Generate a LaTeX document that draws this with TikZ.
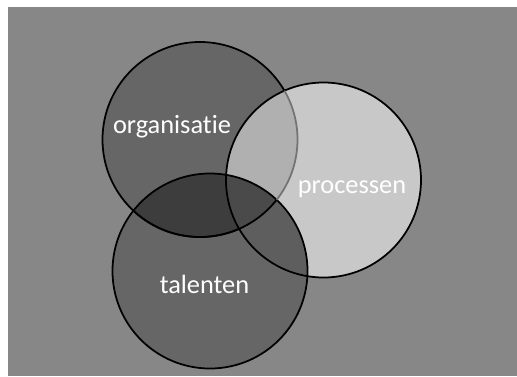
\documentclass[tikz,border=0pt]{standalone}
\usepackage{fontspec}
\setmainfont{Carlito}[Ligatures=NoCommon]
\definecolor{bggray}{HTML}{878787}
\definecolor{darkset}{HTML}{666666}
\definecolor{lightset}{HTML}{C8C8C8}
\tikzset{
ring/.style={draw=black, line width=1pt}, % outline of every set
label/.style={text=white, font=\fontsize{15}{18}\selectfont, anchor=base}, % white set names
}

\begin{document}
\begin{tikzpicture}
    \useasboundingbox (0,0) rectangle (10.34,7.52);
    \fill[bggray] (0.16,0) rectangle (10.34,7.38);
    % centres of the three sets
    \coordinate (org) at (4.00,4.73);
    \coordinate (proc) at (6.47,3.92);
    \coordinate (tal) at (4.20,2.10);
    \def\r{1.95}
    \fill[darkset] (org) circle (\r);
    \fill[darkset] (tal) circle (\r);
    \fill[lightset] (proc) circle (\r);
    % overlaps
    \begin{scope}
        \clip (org) circle (\r);
        \fill[black!31] (proc) circle (\r);
        \fill[black!76] (tal) circle (\r);
        \clip (proc) circle (\r);
        \fill[black!71] (tal) circle (\r);
    \end{scope}
    \begin{scope}[even odd rule]
        \clip (tal) circle (\r);
        \clip (0,0) rectangle (10.34,7.52) (org) circle (\r);
        \fill[black!63] (proc) circle (\r);
    \end{scope}
    % outlines, the one of org only faint where it lies on proc alone
    \draw[ring] (proc) circle (\r);
    \draw[ring] (tal) circle (\r);
    \begin{scope}[even odd rule]
        \clip (0,0) rectangle (10.34,7.52) (proc) circle (\r);
        \draw[ring] (org) circle (\r);
    \end{scope}
    \begin{scope}
        \clip (tal) circle (\r);
        \draw[ring] (org) circle (\r);
    \end{scope}
    \begin{scope}[even odd rule]
        \clip (proc) circle (\r);
        \clip (0,0) rectangle (10.34,7.52) (tal) circle (\r);
        \draw[ring, draw=black!55] (org) circle (\r);
    \end{scope}
    \node[label] (orgname) at (3.44,4.86) {organisatie};
    \node[label] (procname) at (7.04,3.66) {processen};
    \node[label] (talname) at (4.09,1.66) {talenten};
\end{tikzpicture}
\end{document}
